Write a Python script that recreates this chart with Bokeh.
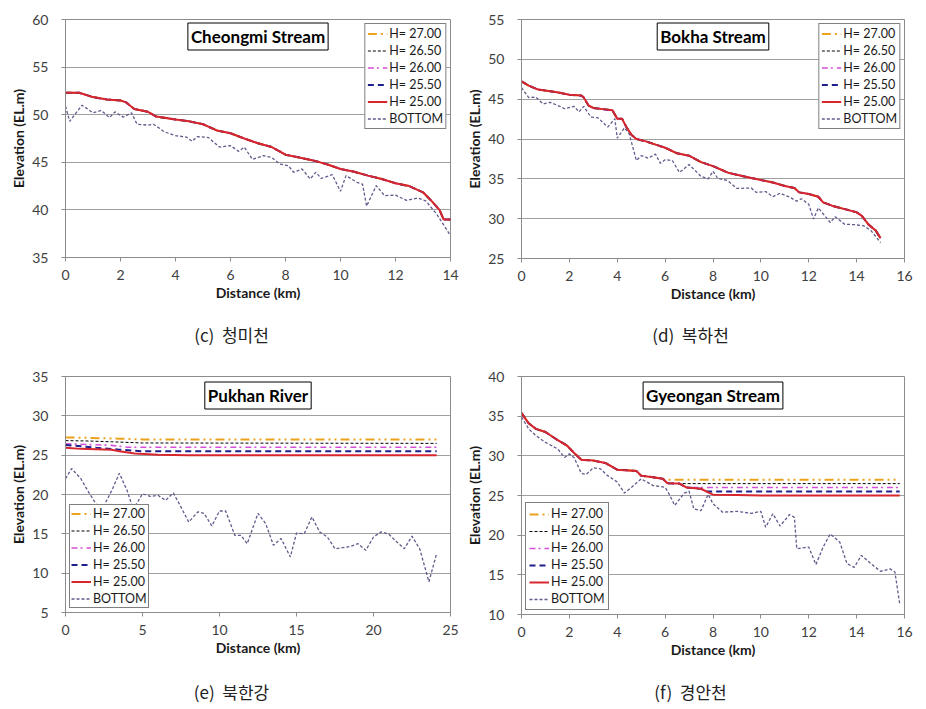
from bokeh.plotting import figure
from bokeh.layouts import column, row
from bokeh.models import Label, Legend, LegendItem, FixedTicker, Range1d, Div
from bokeh.embed import file_html
from bokeh.resources import INLINE

# ---------------- data ----------------
series_labels = ["H= 27.00", "H= 26.50", "H= 26.00", "H= 25.50", "H= 25.00", "BOTTOM"]
panel_titles = ["Cheongmi Stream", "Bokha Stream", "Pukhan River", "Gyeongan Stream"]
panel_captions = ["(c)  청미천", "(d)  복하천", "(e)  북한강", "(f)  경안천"]

# (c) Cheongmi Stream
cheongmi_ws_x = [0, 0.5, 1, 1.5, 2, 2.2, 2.5, 3, 3.3, 4, 4.5, 5, 5.5, 6, 6.5, 7, 7.5, 8, 8.5, 9,
                 9.5, 10, 10.5, 11, 11.5, 12, 12.5, 13, 13.3, 13.6, 13.75, 14]
cheongmi_ws = [52.3, 52.3, 51.85, 51.6, 51.5, 51.3, 50.6, 50.3, 49.8, 49.5, 49.3, 49.0, 48.35, 48.05,
               47.5, 47.0, 46.6, 45.8, 45.5, 45.2, 44.8, 44.3, 44.0, 43.6, 43.25, 42.8, 42.5, 41.85,
               40.97, 40.0, 39.0, 39.0]
cheongmi_bed_x = [0, 0.15, 0.6, 1.0, 1.3, 1.6, 1.8, 2.1, 2.4, 2.6, 3.0, 3.2, 3.6, 4.0, 4.4, 4.6, 4.8,
                  5.2, 5.6, 6.0, 6.3, 6.5, 6.8, 7.2, 7.5, 7.8, 8.1, 8.3, 8.6, 8.9, 9.1, 9.3, 9.7, 10.0,
                  10.2, 10.6, 10.8, 10.95, 11.3, 11.6, 12.0, 12.4, 12.8, 13.1, 13.5, 14.0]
cheongmi_bed = [50.9, 49.3, 51.0, 50.2, 50.45, 49.7, 50.3, 49.75, 50.2, 49.0, 48.9, 49.0, 48.2, 47.8,
                47.65, 47.2, 47.7, 47.6, 46.6, 46.75, 46.15, 46.6, 45.3, 45.7, 45.5, 44.8, 44.65, 43.95,
                44.3, 43.25, 43.95, 43.3, 43.7, 41.95, 43.6, 42.9, 42.7, 40.4, 42.55, 41.5, 41.55, 41.0,
                41.25, 40.95, 39.55, 37.3]

# (d) Bokha Stream
bokha_ws_x = [0, 0.3, 0.7, 1.2, 1.6, 2.0, 2.5, 2.6, 2.8, 3.0, 3.4, 3.8, 4.0, 4.2, 4.4, 4.6, 4.8, 5.2,
              5.6, 6.0, 6.5, 7.0, 7.5, 8.0, 8.6, 9.0, 9.6, 10.0, 10.5, 11.0, 11.4, 11.6, 12.0, 12.4,
              12.6, 13.0, 13.5, 14.0, 14.2, 14.5, 14.8, 15.0]
bokha_ws = [47.24, 46.7, 46.2, 46.0, 45.8, 45.55, 45.45, 45.2, 44.2, 43.9, 43.75, 43.6, 42.55, 42.55,
            41.4, 40.5, 40.0, 39.7, 39.3, 38.9, 38.2, 37.9, 37.1, 36.6, 35.8, 35.5, 35.1, 34.85, 34.55,
            34.1, 33.85, 33.3, 33.1, 32.75, 32.05, 31.6, 31.2, 30.8, 30.4, 29.25, 28.5, 27.55]
bokha_bed_x = [0, 0.3, 0.6, 0.9, 1.2, 1.6, 1.8, 2.2, 2.4, 2.6, 2.9, 3.2, 3.6, 3.9, 4.0, 4.3, 4.5, 4.8,
               5.0, 5.3, 5.6, 5.8, 6.0, 6.3, 6.6, 7.0, 7.5, 7.8, 8.0, 8.2, 8.6, 9.0, 9.6, 9.8, 10.2,
               10.5, 10.8, 11.2, 11.5, 11.7, 12.0, 12.2, 12.4, 12.7, 12.9, 13.1, 13.5, 13.9, 14.3,
               14.6, 15.0]
bokha_bed = [46.45, 45.2, 45.25, 44.4, 44.6, 44.1, 43.8, 44.1, 43.4, 44.1, 42.75, 42.65, 41.5, 42.55,
             40.1, 41.4, 40.65, 37.3, 37.9, 37.6, 38.1, 36.95, 37.4, 37.3, 35.8, 36.8, 35.3, 35.0,
             35.95, 35.05, 34.8, 33.8, 33.85, 33.3, 33.4, 32.75, 33.2, 32.7, 32.2, 32.5, 31.8, 29.95,
             31.35, 30.25, 29.5, 30.25, 29.3, 29.25, 29.1, 28.5, 27.0]

# (e) Pukhan River
pukhan_h27_x = [0, 1.5, 3.5, 5, 24.1]
pukhan_h27 = [27.25, 27.2, 27.1, 27.0, 27.0]
pukhan_h265_x = [0, 1.5, 3, 5, 24.1]
pukhan_h265 = [26.85, 26.8, 26.7, 26.55, 26.5]
pukhan_h26_x = [0, 1.5, 3, 4, 24.1]
pukhan_h26 = [26.45, 26.35, 26.25, 26.0, 26.0]
pukhan_h255_x = [0, 2, 3.5, 5, 24.1]
pukhan_h255 = [26.3, 25.95, 25.7, 25.5, 25.5]
pukhan_h25_x = [0, 1, 3, 3.5, 4.5, 6, 8, 24.1]
pukhan_h25 = [25.95, 25.8, 25.7, 25.5, 25.2, 25.05, 25.0, 25.0]
pukhan_bed_x = [0, 0.4, 1.0, 1.5, 2.3, 3.0, 3.5, 4.0, 4.4, 5.0, 5.5, 6.0, 6.5, 7.0, 7.5, 8.0, 8.6,
                9.0, 9.5, 10.0, 10.4, 11.0, 11.4, 11.8, 12.5, 13.0, 13.5, 14.0, 14.6, 15.0, 15.5,
                16.0, 16.5, 17.0, 17.5, 18.5, 19.0, 19.5, 20.0, 20.5, 21.0, 21.5, 22.0, 22.5, 23.0,
                23.6, 24.1]
pukhan_bed = [22.0, 23.3, 22.0, 20.3, 17.8, 20.5, 22.7, 20.5, 18.1, 20.1, 19.75, 19.9, 19.25, 20.2,
              18.4, 16.5, 17.8, 17.6, 16.0, 17.9, 17.9, 14.8, 14.8, 13.75, 17.6, 16.3, 13.55, 14.4,
              12.05, 15.1, 15.0, 17.15, 15.25, 14.6, 13.1, 13.4, 13.75, 12.9, 14.6, 15.25, 14.95,
              14.0, 13.1, 14.7, 13.1, 8.9, 12.5]

# (f) Gyeongan Stream
gyeongan_ws_x = [0, 0.3, 0.6, 1.0, 1.5, 1.9, 2.2, 2.5, 3.0, 3.5, 4.0, 4.8, 5.0, 5.5, 5.9, 6.1, 6.6,
                 6.9, 7.5, 7.8, 8.0, 9.0, 10.0, 15.8]
gyeongan_ws = [35.4, 34.1, 33.4, 33.0, 32.0, 31.3, 30.35, 29.5, 29.4, 29.1, 28.25, 28.1, 27.5, 27.3,
               27.1, 26.55, 26.5, 26.0, 25.85, 25.4, 25.1, 25.05, 25.0, 25.0]
gyeongan_h27_x = [0, 0.3, 0.6, 1.0, 1.5, 1.9, 2.2, 2.5, 3.0, 3.5, 4.0, 4.8, 5.0, 5.5, 6.0, 15.8]
gyeongan_h27 = [35.4, 34.1, 33.4, 33.0, 32.0, 31.3, 30.35, 29.5, 29.4, 29.1, 28.25, 28.1, 27.5, 27.3,
                27.0, 27.0]
gyeongan_h265_x = [0, 0.3, 0.6, 1.0, 1.5, 1.9, 2.2, 2.5, 3.0, 3.5, 4.0, 4.8, 5.0, 5.5, 5.9, 6.1, 15.8]
gyeongan_h265 = [35.4, 34.1, 33.4, 33.0, 32.0, 31.3, 30.35, 29.5, 29.4, 29.1, 28.25, 28.1, 27.5, 27.3,
                 27.1, 26.5, 26.5]
gyeongan_h26_x = [0, 0.3, 0.6, 1.0, 1.5, 1.9, 2.2, 2.5, 3.0, 3.5, 4.0, 4.8, 5.0, 5.5, 5.9, 6.1, 6.6,
                  6.9, 15.8]
gyeongan_h26 = [35.4, 34.1, 33.4, 33.0, 32.0, 31.3, 30.35, 29.5, 29.4, 29.1, 28.25, 28.1, 27.5, 27.3,
                27.1, 26.55, 26.5, 26.0, 26.0]
gyeongan_h255_x = [0, 0.3, 0.6, 1.0, 1.5, 1.9, 2.2, 2.5, 3.0, 3.5, 4.0, 4.8, 5.0, 5.5, 5.9, 6.1, 6.6,
                   6.9, 7.5, 7.7, 15.8]
gyeongan_h255 = [35.4, 34.1, 33.4, 33.0, 32.0, 31.3, 30.35, 29.5, 29.4, 29.1, 28.25, 28.1, 27.5, 27.3,
                 27.1, 26.55, 26.5, 26.0, 25.85, 25.5, 25.5]
gyeongan_bed_x = [0, 0.3, 0.6, 1.0, 1.5, 1.8, 2.0, 2.2, 2.5, 2.7, 3.0, 3.3, 3.6, 4.0, 4.3, 4.6, 5.0,
                  5.5, 6.0, 6.2, 6.4, 6.8, 7.0, 7.2, 7.5, 7.8, 8.0, 8.4, 9.0, 9.6, 10.0, 10.2, 10.5,
                  10.8, 11.2, 11.4, 11.5, 12.0, 12.3, 12.6, 12.9, 13.3, 13.6, 13.9, 14.2, 14.6, 15.0,
                  15.4, 15.6, 15.8]
gyeongan_bed = [34.9, 33.4, 32.55, 31.7, 30.9, 29.8, 30.25, 29.75, 27.8, 27.65, 28.5, 28.35, 27.5,
                26.7, 25.3, 26.05, 27.1, 26.25, 26.05, 25.0, 23.75, 25.3, 25.55, 23.3, 23.1, 25.15,
                23.95, 22.9, 23.0, 22.75, 23.0, 21.0, 22.7, 21.15, 22.6, 22.25, 18.3, 18.5, 16.3, 18.5,
                20.15, 19.1, 16.4, 15.95, 17.45, 16.4, 15.45, 15.75, 15.35, 11.35]

# ---------------- styles ----------------
STYLES = [
    dict(color="#EBA21C", line_dash="9 4 2 4 2 4", line_width=2.0),
    dict(color="#000000", line_dash="3 2", line_width=1.0),
    dict(color="#D54FD8", line_dash="6 3 2 4", line_width=1.6),
    dict(color="#1E1E8C", line_dash="6 4", line_width=2.0),
    dict(color="#D8262E", line_dash="solid", line_width=2.0),
    dict(color="#625A8C", line_dash="3 2", line_width=1.3),
]
FONT = "Lato"
GRID = "#a0a0a0"


def make_panel(title, xr, yr, xticks, yticks, series, legend_loc,
               width, height, bl, br, bt, bb, title_dy, leg_row_h, leg_spacing, leg_pad):
    p = figure(width=width, height=height, output_backend="svg", toolbar_location=None,
               x_range=Range1d(*xr), y_range=Range1d(*yr),
               min_border_left=bl, min_border_right=br, min_border_top=bt, min_border_bottom=bb)
    p.background_fill_color = "white"
    p.border_fill_color = "white"
    p.outline_line_color = "#8c8c8c"
    p.xgrid.visible = False
    p.ygrid.grid_line_color = GRID
    p.ygrid.grid_line_width = 1
    p.xaxis.ticker = FixedTicker(ticks=xticks)
    p.yaxis.ticker = FixedTicker(ticks=yticks)
    for ax in (p.xaxis[0], p.yaxis[0]):
        ax.axis_line_color = "#8c8c8c"
        ax.major_tick_line_color = "#8c8c8c"
        ax.major_tick_in = 0
        ax.major_tick_out = 4
        ax.minor_tick_line_color = None
        ax.major_label_text_font = FONT
        ax.major_label_text_font_size = "14px"
        ax.major_label_text_color = "#404040"
        ax.axis_label_text_font = FONT
        ax.axis_label_text_font_size = "14px"
        ax.axis_label_text_font_style = "bold"
        ax.axis_label_text_color = "#1a1a1a"
    p.xaxis.axis_label = "Distance (km)"
    p.yaxis.axis_label = "Elevation (EL.m)"
    p.xaxis.major_label_standoff = 8
    p.xaxis.axis_label_standoff = 1
    p.yaxis.major_label_standoff = 13
    p.yaxis.axis_label_standoff = 2

    items = []
    for (xs, ys), lab, st in zip(series, series_labels, STYLES):
        r = p.line(xs, ys, line_color=st["color"], line_dash=st["line_dash"],
                   line_width=st["line_width"])
        items.append(LegendItem(label=lab, renderers=[r]))

    leg = Legend(items=items, location=legend_loc)
    leg.border_line_color = "#000000"
    leg.border_line_width = 1
    leg.background_fill_color = "white"
    leg.background_fill_alpha = 1
    leg.label_text_font = FONT
    leg.label_text_font_size = "12.5px"
    leg.label_text_color = "#1a1a1a"
    leg.glyph_width = 20
    leg.glyph_height = leg_row_h
    leg.label_height = leg_row_h
    leg.spacing = leg_spacing
    leg.padding = leg_pad
    leg.margin = 4
    leg.label_standoff = 2
    p.add_layout(leg, "center")

    frame_h = height - bt - bb
    ypx = (yr[1] - yr[0]) / frame_h
    xmid = (xr[0] + xr[1]) / 2
    title_y = yr[1] - title_dy * ypx
    shadow = Label(x=xmid, y=title_y, x_offset=3, y_offset=-3, text=title,
                   text_font=FONT, text_font_size="17px", text_font_style="bold",
                   text_align="center", text_baseline="middle", text_alpha=0,
                   background_fill_color="#b5b5b5", background_fill_alpha=0.8,
                   padding=3)
    p.add_layout(shadow)
    lbl = Label(x=xmid, y=title_y, text=title,
                text_font=FONT, text_font_size="17px", text_font_style="bold",
                text_color="#000000", text_align="center", text_baseline="middle",
                background_fill_color="white", border_line_color="#000000",
                border_line_width=1, padding=3)
    p.add_layout(lbl)
    return p


def make_caption(text, width, height, pad_top):
    html = ('<div style="width:%dpx;text-align:center;font-family:\'Noto Sans CJK KR\';'
            'font-size:17px;line-height:20px;color:#222;padding-top:%dpx;white-space:pre;">%s</div>'
            % (width, pad_top, text))
    return Div(text=html, width=width, height=height, margin=(0, 0, 0, 0))


# top row: y 0..355 (figure 0..320, caption 320..355); bottom row: y 355..709
p1 = make_panel(panel_titles[0], (0, 14), (35, 60),
                list(range(0, 15, 2)), list(range(35, 61, 5)),
                [(cheongmi_ws_x, cheongmi_ws)] * 5 + [(cheongmi_bed_x, cheongmi_bed)],
                "top_right", 463, 320, 65, 13, 19, 63, 17, 15, 2, 2)
p2 = make_panel(panel_titles[1], (0, 16), (25, 55),
                list(range(0, 17, 2)), list(range(25, 56, 5)),
                [(bokha_ws_x, bokha_ws)] * 5 + [(bokha_bed_x, bokha_bed)],
                "top_right", 455, 320, 58, 14, 19, 62, 17, 15, 2, 2)
p3 = make_panel(panel_titles[2], (0, 25), (5, 35),
                list(range(0, 26, 5)), list(range(5, 36, 5)),
                [(pukhan_h27_x, pukhan_h27), (pukhan_h265_x, pukhan_h265),
                 (pukhan_h26_x, pukhan_h26), (pukhan_h255_x, pukhan_h255),
                 (pukhan_h25_x, pukhan_h25), (pukhan_bed_x, pukhan_bed)],
                "bottom_left", 463, 320, 65, 13, 21, 63, 19, 13, 2, 1)
p4 = make_panel(panel_titles[3], (0, 16), (10, 40),
                list(range(0, 17, 2)), list(range(10, 41, 5)),
                [(gyeongan_h27_x, gyeongan_h27), (gyeongan_h265_x, gyeongan_h265),
                 (gyeongan_h26_x, gyeongan_h26), (gyeongan_h255_x, gyeongan_h255),
                 (gyeongan_ws_x, gyeongan_ws), (gyeongan_bed_x, gyeongan_bed)],
                "bottom_left", 455, 320, 58, 14, 21, 61, 19, 14, 2, 3)

c1 = make_caption(panel_captions[0], 463, 35, 5)
c2 = make_caption(panel_captions[1], 455, 35, 5)
c3 = make_caption(panel_captions[2], 463, 34, 7)
c4 = make_caption(panel_captions[3], 455, 34, 7)

layout = column(
    row(column(p1, c1, spacing=0), column(p2, c2, spacing=0), spacing=0),
    row(column(p3, c3, spacing=0), column(p4, c4, spacing=0), spacing=0),
    spacing=0)
open("out.html", "w").write(file_html(layout, INLINE))
